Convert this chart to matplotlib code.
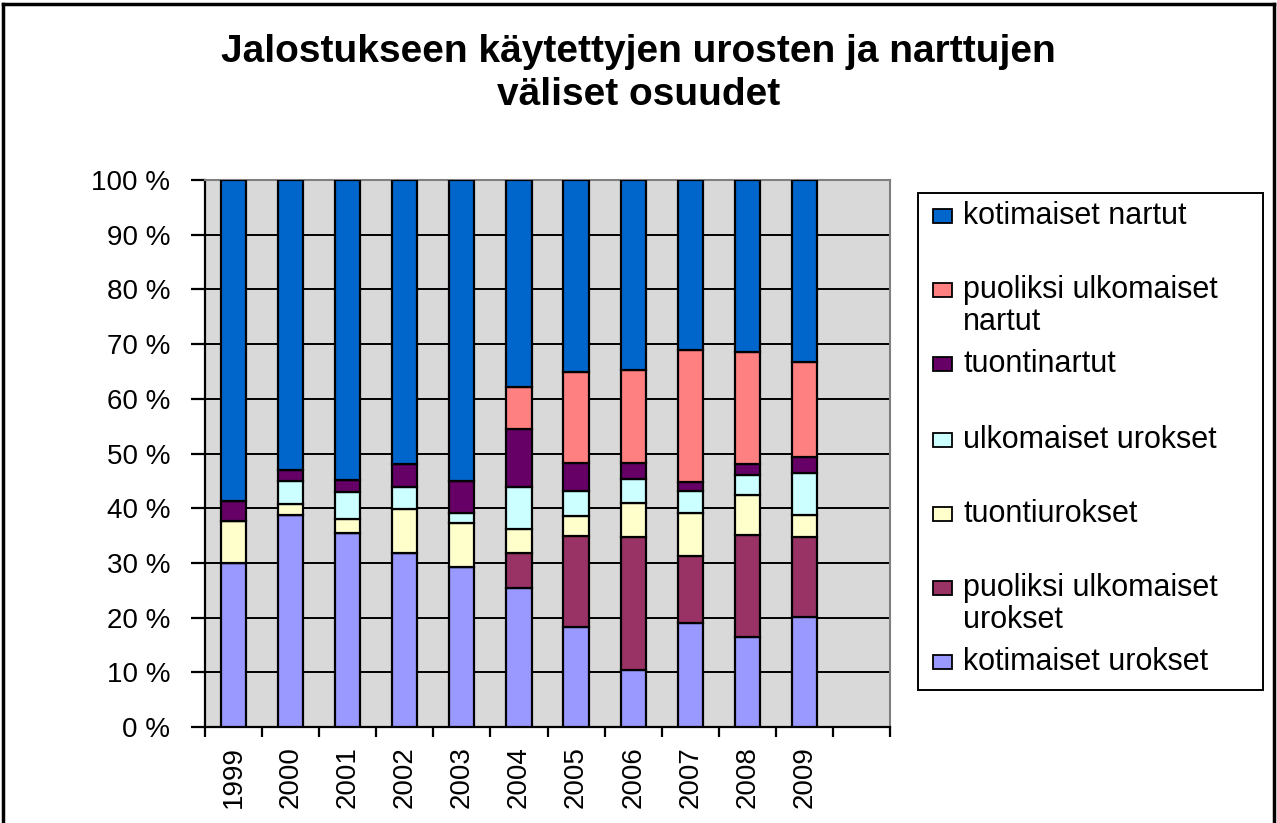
import numpy as np
import matplotlib
matplotlib.use('Agg')
import matplotlib.pyplot as plt
from matplotlib.patches import Rectangle
from matplotlib.lines import Line2D

plt.rcParams['font.family'] = ['Liberation Sans', 'DejaVu Sans']

years = ['1999', '2000', '2001', '2002', '2003', '2004', '2005', '2006', '2007', '2008', '2009']

# osuudet prosentteina, alhaalta ylos
kotimaiset_urokset = [30.0, 38.8, 35.5, 31.9, 29.2, 25.5, 18.3, 10.5, 19.0, 16.5, 20.1]
puoliksi_urokset = [0.0, 0.0, 0.0, 0.0, 0.0, 6.3, 16.7, 24.3, 12.2, 18.6, 14.7]
tuontiurokset = [7.7, 1.9, 2.5, 8.0, 8.1, 4.4, 3.5, 6.2, 8.0, 7.4, 4.0]
ulkomaiset_urokset = [0.0, 4.3, 4.9, 4.0, 1.8, 7.7, 4.6, 4.3, 4.0, 3.6, 7.7]
tuontinartut = [3.6, 1.9, 2.2, 4.1, 5.9, 10.6, 5.2, 3.0, 1.5, 1.9, 2.8]
puoliksi_nartut = [0.0, 0.0, 0.0, 0.0, 0.0, 7.7, 16.6, 17.0, 24.3, 20.5, 17.4]
kotimaiset_nartut = [58.7, 53.1, 54.9, 52.0, 55.0, 37.8, 35.1, 34.7, 31.0, 31.5, 33.3]

series = [kotimaiset_urokset, puoliksi_urokset, tuontiurokset, ulkomaiset_urokset,
          tuontinartut, puoliksi_nartut, kotimaiset_nartut]
labels = ['kotimaiset urokset', 'puoliksi ulkomaiset\nurokset', 'tuontiurokset',
          'ulkomaiset urokset', 'tuontinartut', 'puoliksi ulkomaiset\nnartut',
          'kotimaiset nartut']
colors = ['#9999FF', '#993366', '#FFFFCC', '#CCFFFF', '#660066', '#FF8080', '#0066CC']

fig = plt.figure(figsize=(12.77, 8.23), dpi=100)
W, H = 1277.0, 823.0
ax = fig.add_axes([205 / W, 1 - 727 / H, (890 - 205) / W, (727 - 180) / H])
ax.set_facecolor('#D9D9D9')

x = np.arange(len(years))
bottom = np.zeros(len(years))
for vals, col in zip(series, colors):
    v = np.array(vals)
    ax.bar(x, v, 0.44, bottom=bottom, color=col, edgecolor='black', linewidth=1.6, zorder=3)
    bottom += v

ax.set_xlim(-0.5, 11.5)
ax.set_ylim(0, 100)
ax.set_yticks(np.arange(0, 101, 10))
ax.set_yticklabels([f'{v} %' for v in range(0, 101, 10)])
ax.yaxis.grid(True, color='black', linewidth=1.4)
ax.set_axisbelow(True)

ax.set_xticks(x)
ax.set_xticklabels(years, rotation=90)
ax.set_xticks(np.arange(-0.5, 12, 1), minor=True)
ax.tick_params(axis='x', which='major', length=0, pad=14, labelsize=20)
ax.tick_params(axis='x', which='minor', length=7, width=1.6, direction='out')
ax.tick_params(axis='y', length=10, width=1.6, direction='out', labelsize=20, pad=15)

for s in ['top', 'right']:
    ax.spines[s].set_color('#808080')
    ax.spines[s].set_linewidth(1.5)
for s in ['left', 'bottom']:
    ax.spines[s].set_color('black')
    ax.spines[s].set_linewidth(1.6)

fig.text(0.5, 1 - 52 / H, 'Jalostukseen käytettyjen urosten ja narttujen',
         ha='center', va='center', fontsize=28, fontweight='bold')
fig.text(0.5, 1 - 95 / H, 'väliset osuudet',
         ha='center', va='center', fontsize=28, fontweight='bold')

# selite
fig.patches.append(Rectangle((918 / W, 1 - 690 / H), (1263 - 918) / W, (690 - 193) / H,
                             transform=fig.transFigure, facecolor='white',
                             edgecolor='black', linewidth=1.4))
entry_y = [216, 290, 364, 440, 514, 588, 662]
for yy, lab, col in zip(entry_y, labels[::-1], colors[::-1]):
    fig.patches.append(Rectangle((933 / W, 1 - (yy + 7) / H), 19 / W, 14 / H,
                                 transform=fig.transFigure, facecolor=col,
                                 edgecolor='black', linewidth=1.3))
    for i, line in enumerate(lab.split('\n')):
        fig.text(963 / W, 1 - (yy + 32 * i) / H, line, ha='left', va='center',
                 fontsize=22)

# kehys
for xs, ys in [([3, 3], [4, 823]), ([3, 1274], [4, 4]), ([1274, 1274], [4, 823])]:
    fig.lines.append(Line2D([v / W for v in xs], [1 - v / H for v in ys],
                            transform=fig.transFigure, color='black', linewidth=2.5))

fig.savefig('out.png', dpi=100)
